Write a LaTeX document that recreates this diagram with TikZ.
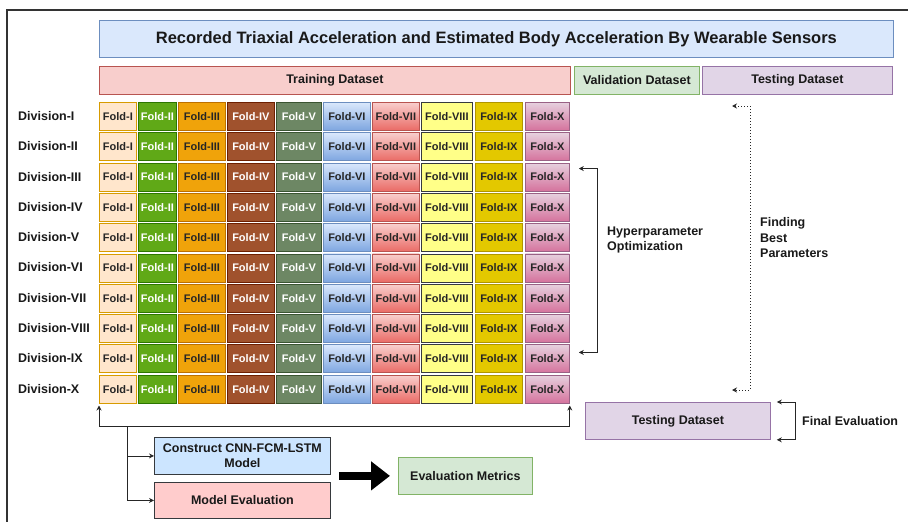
\documentclass[tikz,border=0pt]{standalone}
\usepackage{fontspec}
\setmainfont{Liberation Sans}
\usepackage{tikz}
\usetikzlibrary{positioning,arrows.meta}

\definecolor{titlefill}{HTML}{DAE8FC}
\definecolor{titleline}{HTML}{6C8EBF}
\definecolor{trainfill}{HTML}{F8CECC}
\definecolor{trainline}{HTML}{B85450}
\definecolor{validfill}{HTML}{D5E8D4}
\definecolor{validline}{HTML}{82B366}
\definecolor{testfill}{HTML}{E1D5E7}
\definecolor{testline}{HTML}{9673A6}
\definecolor{darkline}{HTML}{36393D}

\begin{document}
\begin{tikzpicture}[x=1pt,y=-1pt,
      box/.style={draw,rectangle,inner sep=0pt,line width=0.8pt,anchor=north west,text=black!90,
        font=\bfseries\fontsize{12.5}{15}\selectfont},
      cell/.style={draw,rectangle,inner sep=0pt,line width=0.8pt,anchor=north west,minimum height=28pt,
        text=black!85,font=\bfseries\fontsize{11}{12}\selectfont},
      foldI/.style={fill={rgb,255:red,255;green,230;blue,204},draw={rgb,255:red,215;green,155;blue,0}},
      foldII/.style={fill={rgb,255:red,96;green,169;blue,23},draw={rgb,255:red,45;green,118;blue,0},text=white},
      foldIII/.style={fill={rgb,255:red,240;green,163;blue,10},draw={rgb,255:red,189;green,112;blue,0}},
      foldIV/.style={fill={rgb,255:red,160;green,82;blue,45},draw={rgb,255:red,109;green,31;blue,0},text=white},
      foldV/.style={fill={rgb,255:red,109;green,135;blue,100},draw={rgb,255:red,58;green,84;blue,49},text=white},
      foldVI/.style={top color=titlefill,bottom color={rgb,255:red,126;green,166;blue,224},draw=titleline},
      foldVII/.style={top color=trainfill,bottom color={rgb,255:red,234;green,107;blue,102},draw=trainline},
      foldVIII/.style={fill={rgb,255:red,255;green,255;blue,136},draw=darkline},
      foldIX/.style={fill={rgb,255:red,227;green,200;blue,0},draw={rgb,255:red,176;green,149;blue,0}},
      foldX/.style={top color={rgb,255:red,230;green,208;blue,222},bottom color={rgb,255:red,213;green,115;blue,157},
        draw={rgb,255:red,153;green,97;blue,133}},
      divlabel/.style={anchor=west,inner sep=0pt,text=black!90,font=\bfseries\fontsize{12.5}{15}\selectfont},
      note/.style={anchor=west,inner sep=0pt,align=left,text=black!90,font=\bfseries\fontsize{12.5}{15.5}\selectfont},
      arr/.style={line width=0.8pt,draw=black!85,-{Stealth[length=5pt,width=5pt]}},
      twoarr/.style={line width=0.8pt,draw=black!85,{Stealth[length=5pt,width=5pt]}-{Stealth[length=5pt,width=5pt]}}]
      \useasboundingbox (0,0) rectangle (908,522);
      % frame
      \draw[line width=1.2pt,black!80] (7,522) -- (7,10) -- (908,10);

      % header boxes
      \node[box,fill=titlefill,draw=titleline,minimum width=794pt,minimum height=37pt,
        font=\bfseries\fontsize{16.5}{19}\selectfont] (title) at (99,20)
        {Recorded Triaxial Acceleration and Estimated Body Acceleration By Wearable Sensors};
      \node[box,fill=trainfill,draw=trainline,minimum width=471pt,minimum height=28pt] (train) at (99,66) {Training Dataset};
      \node[box,fill=validfill,draw=validline,minimum width=125pt,minimum height=28pt] (valid) at (574,66) {Validation Dataset};
      \node[box,fill=testfill,draw=testline,minimum width=190pt,minimum height=28pt] (testtop) at (702,66) {Testing Dataset};

      % divisions and folds
      \foreach \r/\d in {1/I,2/II,3/III,4/IV,5/V,6/VI,7/VII,8/VIII,9/IX,10/X}{
        \node[divlabel] (div\r) at (18,{116+30.3*(\r-1)}) {Division-\d};
        \foreach \c/\x/\w/\n in {1/99/37/I,2/138/38/II,3/178/47/III,4/227/47/IV,5/276/45/V,
            6/323/47/VI,7/372/47/VII,8/421/51/VIII,9/475/47/IX,10/525/44/X}
          \node[cell,fold\n,minimum width=\w pt] (r\r-\c) at (\x,{102+30.3*(\r-1)}) {Fold-\n};
      }

      % hyperparameter loop
      \coordinate (hyptop) at ([shift={(9,6)}]r3-10.north east);
      \coordinate (hypbot) at ([shift={(9,8)}]r9-10.north east);
      \draw[twoarr] (hyptop) -- ++(19,0) |- (hypbot);
      \node[note] (hyp) at (607,240) {Hyperparameter\\Optimization};

      % finding best parameters
      \coordinate (fbtop) at (732,106);
      \coordinate (fbbot) at (732,390);
      \draw[twoarr,dash pattern=on 1.2pt off 1.8pt] (fbtop) -- ++(18,0) |- (fbbot);
      \node[note] (best) at (760,238) {Finding\\Best\\Parameters};

      % final evaluation
      \node[box,fill=testfill,draw=testline,minimum width=185pt,minimum height=37pt] (testbot) at (585,402) {Testing Dataset};
      \draw[twoarr] ([xshift=6pt]testbot.north east) -- ++(19,0) |- ([xshift=6pt]testbot.south east);
      \node[note] (final) at (802,421) {Final Evaluation};

      % back to the folds
      \coordinate (loopy) at (0,426);
      \draw[twoarr,shorten <=2pt,shorten >=2pt] (r10-1.south west) -- (r10-1.south west |- loopy)
        -- (r10-10.south east |- loopy) -- (r10-10.south east);

      % model boxes
      \node[box,fill={rgb,255:red,204;green,229;blue,255},draw=darkline,align=center,
        minimum width=176pt,minimum height=37pt] (build) at (154,437) {Construct CNN-FCM-LSTM\\Model};
      \node[box,fill={rgb,255:red,255;green,204;blue,204},draw=darkline,
        minimum width=176pt,minimum height=36pt] (modeleval) at (154,482) {Model Evaluation};
      \node[box,fill=validfill,draw=validline,minimum width=134pt,minimum height=37pt] (metrics) at (398,457) {Evaluation Metrics};
      \coordinate (branch) at (127,426);
      \draw[arr] (branch) |- (build.west);
      \draw[arr] (branch) |- (modeleval.west);
      \draw[line width=8pt,-{Triangle[length=19pt,width=28pt]}] (build.east |- metrics.west) ++(8,0)
        -- ([xshift=-8pt]metrics.west);
    \end{tikzpicture}
\end{document}
